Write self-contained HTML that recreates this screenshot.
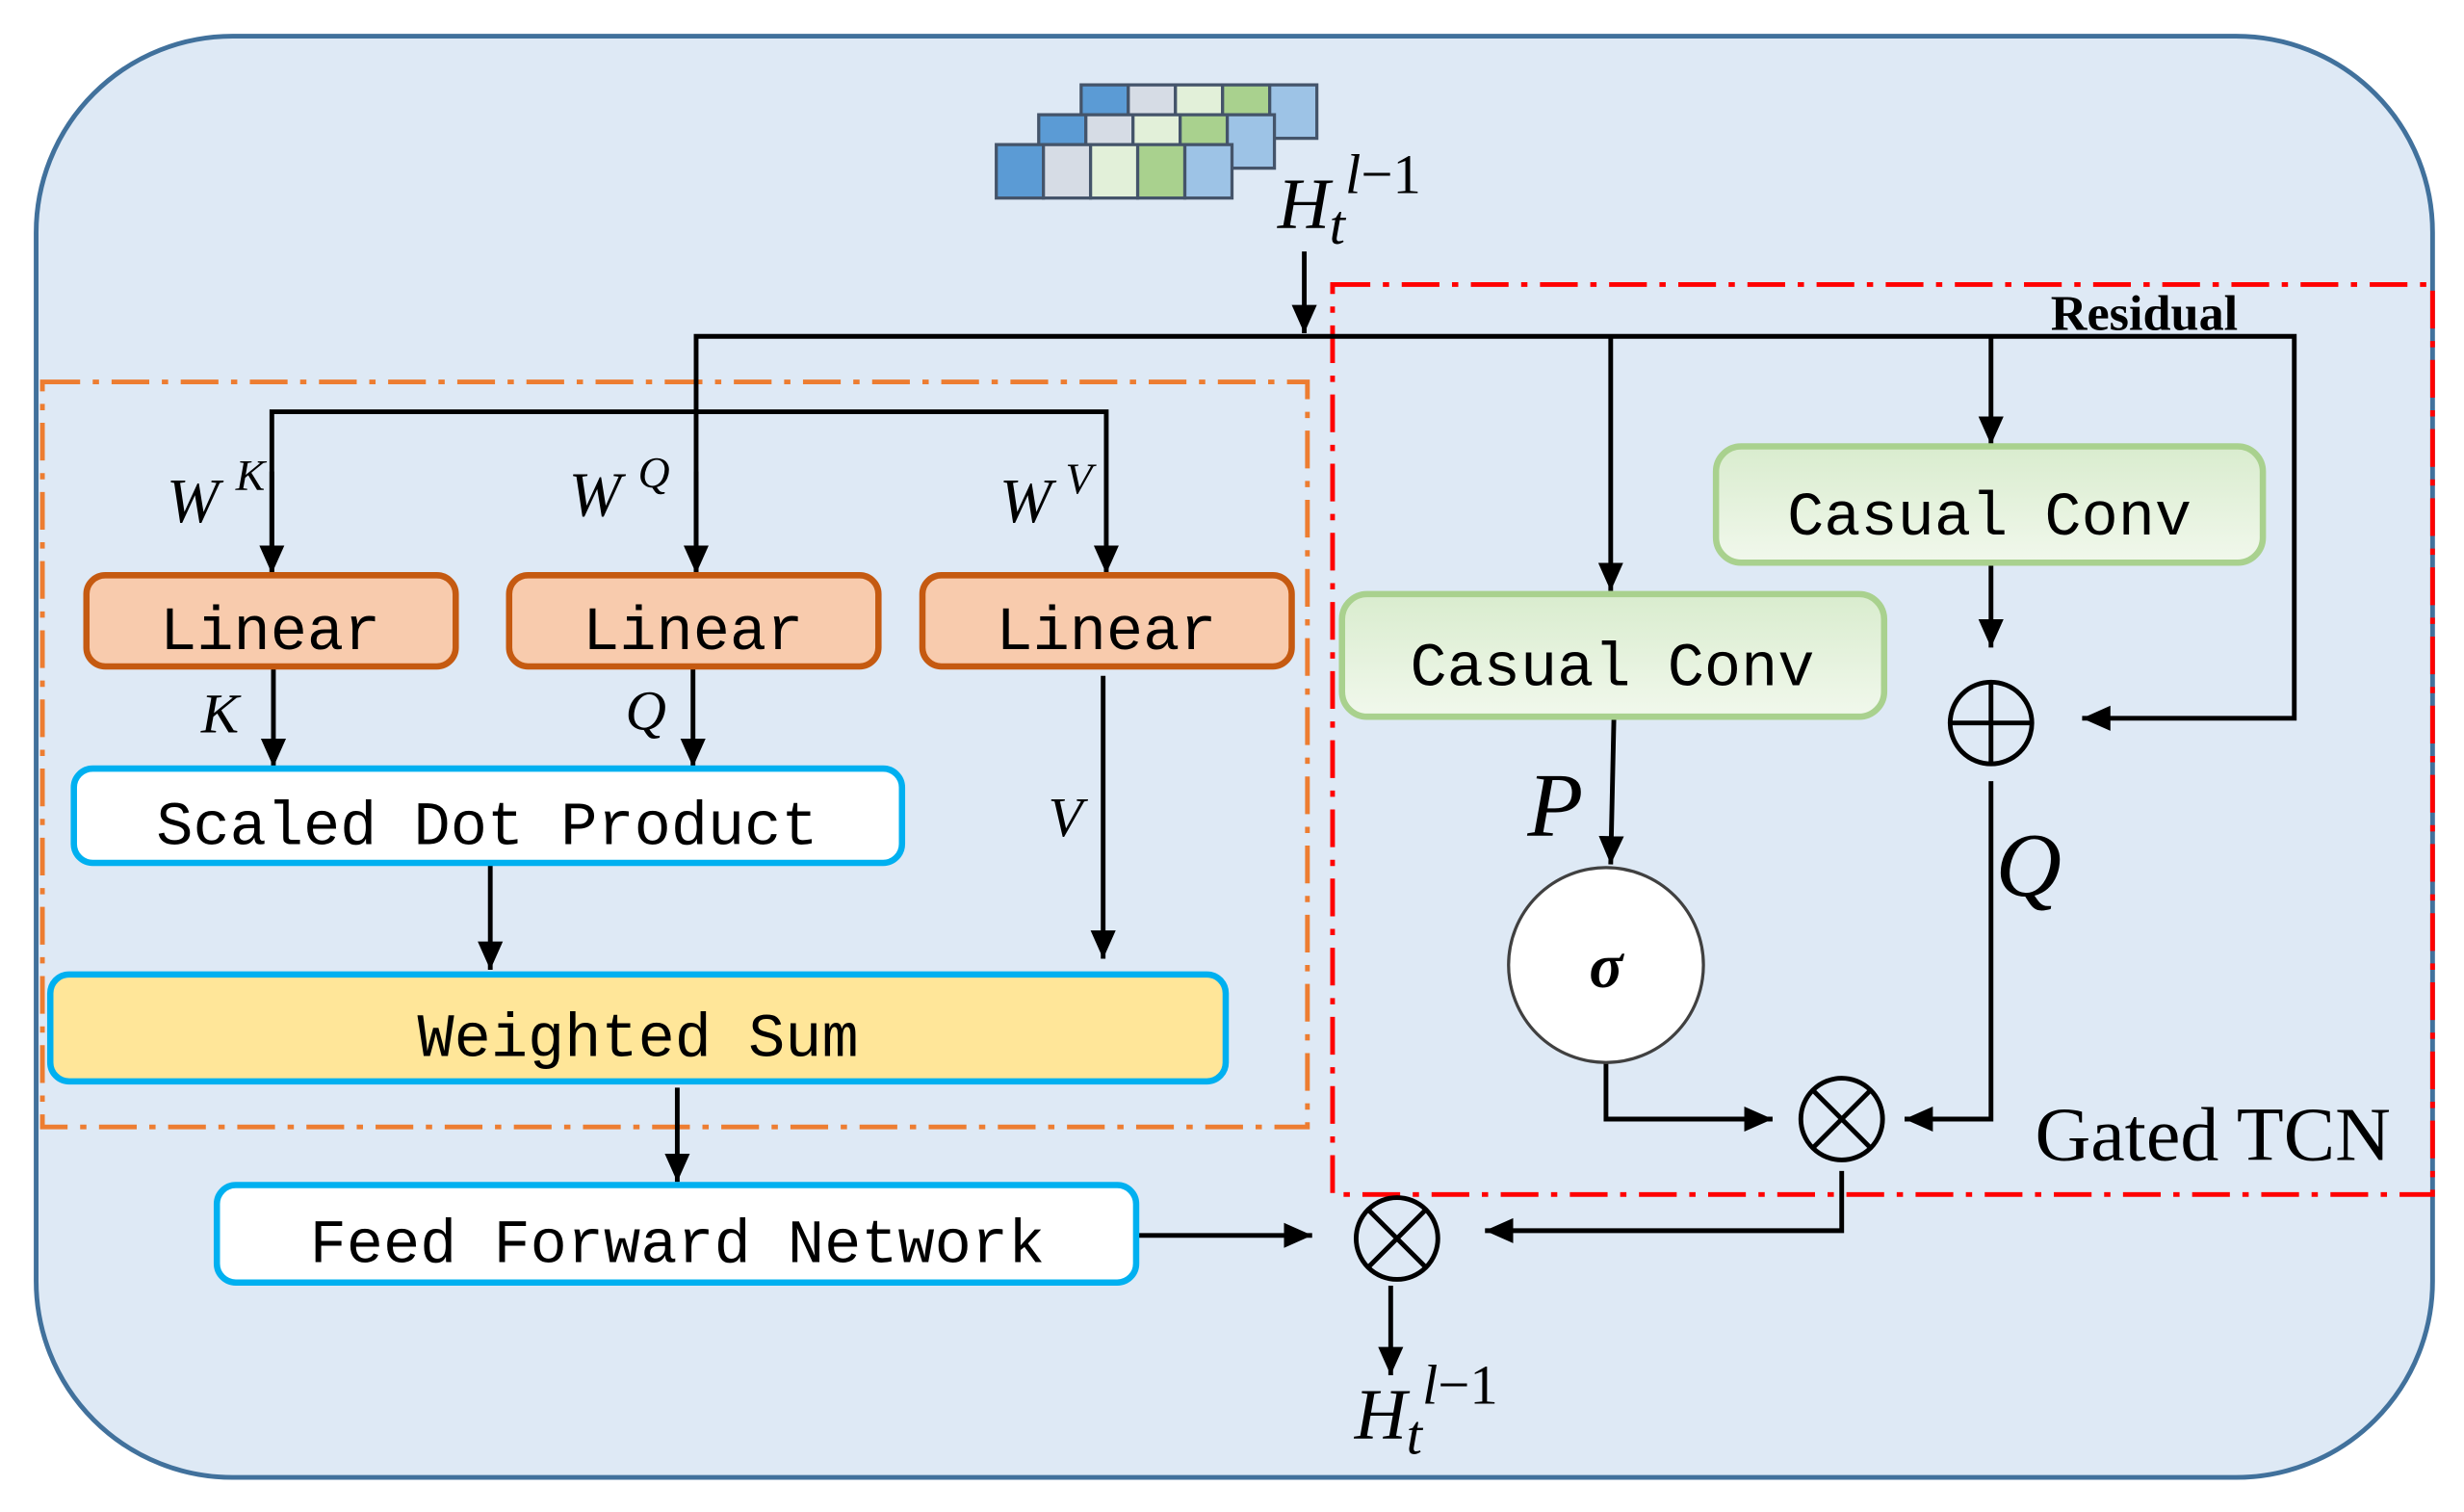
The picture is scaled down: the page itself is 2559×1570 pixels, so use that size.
<!DOCTYPE html>
<html><head><meta charset="utf-8"><style>
html,body{margin:0;padding:0;background:#fff;}
svg{display:block;}
.mono{font-family:"Liberation Mono",monospace;font-size:39px;fill:#000;}
.it{font-family:"Liberation Serif",serif;font-style:italic;fill:#000;}
</style></head><body>
<svg width="2559" height="1570" viewBox="0 0 1568 962" xmlns="http://www.w3.org/2000/svg">
<defs>
<linearGradient id="g" x1="0" y1="0" x2="0" y2="1"><stop offset="0" stop-color="#d9ecce"/><stop offset="1" stop-color="#f1f8ec"/></linearGradient>
</defs>
<marker id="m" markerWidth="20" markerHeight="20" refX="18" refY="10" orient="auto" markerUnits="userSpaceOnUse"><path d="M0,2 L18,10 L0,18 z" fill="#000"/></marker>
<rect x="23" y="23" width="1525" height="917" rx="125" fill="#dee9f5" stroke="#41719c" stroke-width="3"/>
<g stroke="#44546a" stroke-width="2">
<rect x="688" y="54" width="30" height="34" fill="#5b9bd5"/><rect x="718" y="54" width="30" height="34" fill="#d6dce5"/><rect x="748" y="54" width="30" height="34" fill="#e2f0d9"/><rect x="778" y="54" width="30" height="34" fill="#a9d18e"/><rect x="808" y="54" width="30" height="34" fill="#9dc3e6"/>
<rect x="661" y="73" width="30" height="34" fill="#5b9bd5"/><rect x="691" y="73" width="30" height="34" fill="#d6dce5"/><rect x="721" y="73" width="30" height="34" fill="#e2f0d9"/><rect x="751" y="73" width="30" height="34" fill="#a9d18e"/><rect x="781" y="73" width="30" height="34" fill="#9dc3e6"/>
<rect x="634" y="92" width="30" height="34" fill="#5b9bd5"/><rect x="664" y="92" width="30" height="34" fill="#d6dce5"/><rect x="694" y="92" width="30" height="34" fill="#e2f0d9"/><rect x="724" y="92" width="30" height="34" fill="#a9d18e"/><rect x="754" y="92" width="30" height="34" fill="#9dc3e6"/>
</g>
<text x="813" y="145" class="it" font-size="46">H</text><text x="846" y="155" class="it" font-size="36">t</text><text x="856" y="123" font-family="Liberation Serif,serif" font-size="36"><tspan font-style="italic">l</tspan>−1</text>
<rect x="27" y="243" width="805" height="474" fill="none" stroke="#ed7d31" stroke-width="3" stroke-dasharray="24,8,4,8"/>
<rect x="848" y="181" width="700" height="579" fill="none" stroke="#ff0000" stroke-width="3" stroke-dasharray="24,8,4,8"/>
<text x="1305" y="210" font-family="Liberation Serif,serif" font-weight="bold" font-size="32">Residual</text>
<g stroke="#000" stroke-width="3" fill="none">
<line x1="830" y1="160" x2="830" y2="212" marker-end="url(#m)"/>
<polyline points="443,365 443,214 1460,214 1460,457 1325,457" marker-end="url(#m)"/>
<line x1="443" y1="300" x2="443" y2="365" marker-end="url(#m)"/>
<polyline points="173,365 173,262 704,262 704,365" marker-end="url(#m)"/>
<line x1="173" y1="300" x2="173" y2="365" marker-end="url(#m)"/>
<line x1="1025" y1="214" x2="1025" y2="376" marker-end="url(#m)"/>
<line x1="1267" y1="214" x2="1267" y2="283" marker-end="url(#m)"/>
<line x1="174" y1="424" x2="174" y2="488" marker-end="url(#m)"/>
<line x1="441" y1="424" x2="441" y2="488" marker-end="url(#m)"/>
<line x1="702" y1="430" x2="702" y2="610" marker-end="url(#m)"/>
<line x1="312" y1="550" x2="312" y2="617" marker-end="url(#m)"/>
<line x1="431" y1="692" x2="431" y2="752" marker-end="url(#m)"/>
<line x1="723" y1="786" x2="835" y2="786" marker-end="url(#m)"/>
<polyline points="1172,745 1172,783 945,783" marker-end="url(#m)"/>
<line x1="885" y1="818" x2="885" y2="875" marker-end="url(#m)"/>
<line x1="1267" y1="358" x2="1267" y2="412" marker-end="url(#m)"/>
<polyline points="1267,497 1267,712 1212,712" marker-end="url(#m)"/>
<line x1="1027" y1="458" x2="1025" y2="550" marker-end="url(#m)"/>
<polyline points="1022,676 1022,712 1128,712" marker-end="url(#m)"/>
</g>
<g stroke="#c55a11" stroke-width="4" fill="#f8cbad">
<rect x="55" y="366" width="235" height="58" rx="12"/><rect x="324" y="366" width="235" height="58" rx="12"/><rect x="587" y="366" width="235" height="58" rx="12"/></g>
<text x="172" y="413" text-anchor="middle" class="mono">Linear</text>
<text x="441" y="413" text-anchor="middle" class="mono">Linear</text>
<text x="704" y="413" text-anchor="middle" class="mono">Linear</text>
<rect x="47" y="489" width="527" height="60" rx="12" fill="#fff" stroke="#00b0f0" stroke-width="4"/>
<text x="310" y="537" text-anchor="middle" class="mono">Scaled Dot Product</text>
<rect x="32" y="620" width="748" height="68" rx="12" fill="#ffe699" stroke="#00b0f0" stroke-width="4"/>
<text x="406" y="672" text-anchor="middle" class="mono">Weighted Sum</text>
<rect x="138" y="754" width="585" height="62" rx="12" fill="#fff" stroke="#00b0f0" stroke-width="4"/>
<text x="431" y="803" text-anchor="middle" class="mono">Feed Forward Network</text>
<rect x="1092" y="284" width="348" height="74" rx="16" fill="url(#g)" stroke="#a9d18e" stroke-width="4"/>
<text x="1266" y="340" text-anchor="middle" class="mono">Casual Conv</text>
<rect x="854" y="378" width="345" height="78" rx="16" fill="url(#g)" stroke="#a9d18e" stroke-width="4"/>
<text x="1026" y="436" text-anchor="middle" class="mono">Casual Conv</text>
<text x="106" y="332" class="it" font-size="40">W</text><text x="150" y="312" class="it" font-size="28">K</text>
<text x="362" y="328" class="it" font-size="40">W</text><text x="406" y="310" class="it" font-size="28">Q</text>
<text x="636" y="332" class="it" font-size="40">W</text><text x="678" y="314" class="it" font-size="28">V</text>
<text x="128" y="466" class="it" font-size="36">K</text>
<text x="398" y="464" class="it" font-size="36">Q</text>
<text x="667" y="532" class="it" font-size="36">V</text>
<text x="972" y="532" class="it" font-size="58">P</text>
<text x="1270" y="570" class="it" font-size="58">Q</text>
<text x="1295" y="738" font-family="Liberation Serif,serif" font-size="49">Gated TCN</text>
<circle cx="1022" cy="614" r="62" fill="#fff" stroke="#404040" stroke-width="2"/>
<text x="1022" y="628" text-anchor="middle" font-family="Liberation Serif,serif" font-weight="bold" font-style="italic" font-size="40">σ</text>
<g stroke="#000" stroke-width="3" fill="none">
<circle cx="1267" cy="460" r="26"/><line x1="1241" y1="460" x2="1293" y2="460"/><line x1="1267" y1="434" x2="1267" y2="486"/>
<circle cx="1172" cy="712" r="26"/><line x1="1154" y1="694" x2="1190" y2="730"/><line x1="1190" y1="694" x2="1154" y2="730"/>
<circle cx="889" cy="788" r="26"/><line x1="871" y1="770" x2="907" y2="806"/><line x1="907" y1="770" x2="871" y2="806"/>
</g>
<text x="862" y="915" class="it" font-size="46">H</text><text x="895" y="925" class="it" font-size="36">t</text><text x="905" y="893" font-family="Liberation Serif,serif" font-size="36"><tspan font-style="italic">l</tspan>−1</text>
</svg>
</body></html>
